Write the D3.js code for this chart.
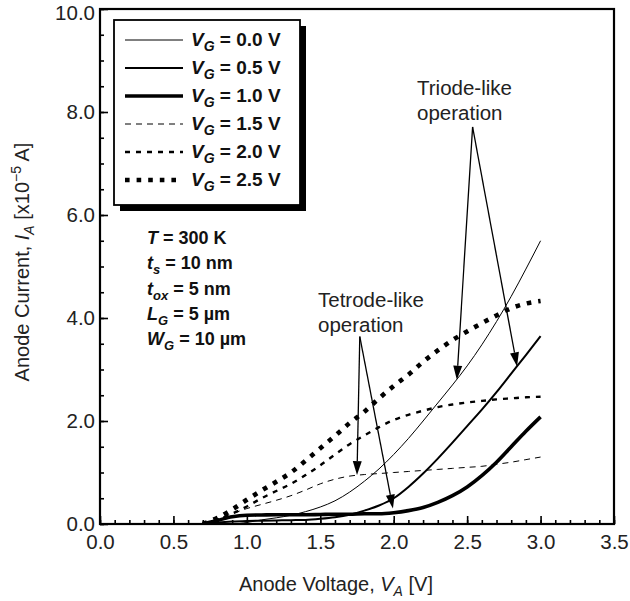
<!DOCTYPE html>
<html>
<head>
<meta charset="utf-8">
<script src="https://cdn.jsdelivr.net/npm/d3@7"></script>
<style>
  html, body { margin: 0; padding: 0; background: #fff; }
  svg { display: block; font-family: "Liberation Sans", Arial, Helvetica, sans-serif; }
</style>
</head>
<body>
<svg id="chart" width="630" height="601"></svg>
<script>
// Anode voltage sample points [V]
const vaCommon = [0.7, 0.8, 0.9, 1.0, 1.1, 1.2, 1.3, 1.4, 1.5, 1.6, 1.7, 1.8, 1.9, 2.0,
                  2.1, 2.2, 2.3, 2.4, 2.5, 2.6, 2.7, 2.8, 2.9, 3.0];

// Anode current [x1e-5 A] for each gate voltage
const iaVg00 = [0, 0, 0, 0.03, 0.08, 0.12, 0.17, 0.24, 0.33, 0.45, 0.62, 0.83, 1.07, 1.35,
                1.66, 2.0, 2.35, 2.7, 3.07, 3.48, 3.93, 4.42, 4.95, 5.5];
const iaVg05 = [0, 0.03, 0.05, 0.06, 0.065, 0.07, 0.075, 0.08, 0.1, 0.13, 0.18, 0.26, 0.36, 0.5,
                0.72, 0.98, 1.27, 1.58, 1.9, 2.22, 2.56, 2.92, 3.28, 3.65];
const iaVg10 = [0, 0.07, 0.14, 0.17, 0.175, 0.18, 0.18, 0.18, 0.185, 0.19, 0.19, 0.2, 0.2, 0.22,
                0.26, 0.32, 0.42, 0.55, 0.72, 0.94, 1.2, 1.5, 1.8, 2.08];
const iaVg15 = [0, 0.1, 0.2, 0.3, 0.38, 0.46, 0.55, 0.66, 0.78, 0.87, 0.93, 0.96, 0.98, 1.0,
                1.02, 1.04, 1.06, 1.08, 1.1, 1.12, 1.16, 1.2, 1.25, 1.3];
const iaVg20 = [0, 0.08, 0.2, 0.34, 0.5, 0.64, 0.78, 0.95, 1.14, 1.35, 1.55, 1.72, 1.88, 2.02,
                2.12, 2.2, 2.27, 2.32, 2.36, 2.39, 2.42, 2.44, 2.46, 2.47];
const iaVg25 = [0, 0.12, 0.28, 0.47, 0.65, 0.82, 1.0, 1.23, 1.47, 1.71, 1.96, 2.18, 2.44, 2.68,
                2.9, 3.15, 3.37, 3.57, 3.74, 3.9, 4.05, 4.19, 4.28, 4.33];

const seriesLabels = ["0.0", "0.5", "1.0", "1.5", "2.0", "2.5"];
const seriesValues = [iaVg00, iaVg05, iaVg10, iaVg15, iaVg20, iaVg25];

// Axis ticks
const xMajorTicks = [0, 0.5, 1.0, 1.5, 2.0, 2.5, 3.0, 3.5];
const yMajorTicks = [0, 2, 4, 6, 8, 10];

// Device parameters
const paramRows = [
  { sym: "T", sub: "", rest: " = 300 K" },
  { sym: "t", sub: "s", rest: " = 10 nm" },
  { sym: "t", sub: "ox", rest: " = 5 nm" },
  { sym: "L", sub: "G", rest: " = 5 \u00b5m" },
  { sym: "W", sub: "G", rest: " = 10 \u00b5m" }
];

// Annotation anchors, in data units [V, x1e-5 A]
const triodeApex = [2.537, 7.71];
const triodeTips = [[2.43, 2.8], [2.84, 3.06]];
const tetrodeApex = [1.769, 3.64];
const tetrodeTips = [[1.75, 0.95], [1.995, 0.3]];

// Line styles per series
const styles = [
  { w: 1.0, dash: null },
  { w: 2.0, dash: null },
  { w: 3.6, dash: null },
  { w: 1.0, dash: "6,5" },
  { w: 2.4, dash: "5,6" },
  { w: 4.6, dash: "4.6,7" }
];

const svg = d3.select("#chart");
const x = d3.scaleLinear().domain([0, 3.5]).range([100, 614]);
const y = d3.scaleLinear().domain([0, 10]).range([524, 9]);

// Clip for curves
svg.append("defs").append("clipPath").attr("id", "plotClip")
  .append("rect").attr("x", 100).attr("y", 9).attr("width", 514).attr("height", 515);

// Curves
const line = d3.line()
  .x(d => x(d[0])).y(d => y(d[1]))
  .curve(d3.curveMonotoneX);

const curves = svg.append("g").attr("clip-path", "url(#plotClip)");
seriesValues.forEach((vals, i) => {
  const pts = vaCommon.map((v, k) => [v, vals[k]]);
  curves.append("path")
    .attr("d", line(pts))
    .attr("fill", "none")
    .attr("stroke", "#000")
    .attr("stroke-width", styles[i].w)
    .attr("stroke-dasharray", styles[i].dash)
    .attr("stroke-linejoin", "round");
});

// Axes with inward ticks
const xMinor = d3.range(0, 3.5001, 0.1).map(v => +v.toFixed(1));
const yMinor = d3.range(0, 10.001, 0.5);

const xAxis = svg.append("g").attr("transform", `translate(0,${y(0)})`)
  .call(d3.axisBottom(x).tickValues(xMajorTicks).tickSizeInner(-8).tickSizeOuter(0)
    .tickPadding(17).tickFormat(d3.format(".1f")));
const xAxisMinor = svg.append("g").attr("transform", `translate(0,${y(0)})`)
  .call(d3.axisBottom(x).tickValues(xMinor).tickSizeInner(-4).tickSizeOuter(0).tickFormat(""));
const yAxis = svg.append("g").attr("transform", `translate(${x(0)},0)`)
  .call(d3.axisLeft(y).tickValues(yMajorTicks).tickSizeInner(-8).tickSizeOuter(0)
    .tickPadding(5).tickFormat(d3.format(".1f")));
const yAxisMinor = svg.append("g").attr("transform", `translate(${x(0)},0)`)
  .call(d3.axisLeft(y).tickValues(yMinor).tickSizeInner(-4).tickSizeOuter(0).tickFormat(""));

[xAxis, xAxisMinor, yAxis, yAxisMinor].forEach(g => {
  g.select(".domain").remove();
  g.selectAll(".tick line").attr("stroke", "#000").attr("stroke-width", 1.6);
  g.selectAll(".tick text").attr("fill", "#222").attr("font-size", 20.5)
    .attr("font-family", "'Liberation Sans', Arial, sans-serif");
});
xAxis.selectAll(".tick text").attr("dy", "0.71em").attr("y", 10);
// top label sits slightly lower so it stays inside the page
yAxis.selectAll(".tick text").filter(d => d === 10).attr("y", 4);

// Frame
svg.append("rect")
  .attr("x", x(0)).attr("y", y(10))
  .attr("width", x(3.5) - x(0)).attr("height", y(0) - y(10))
  .attr("fill", "none").attr("stroke", "#000").attr("stroke-width", 2.2);

// Axis titles
const xt = svg.append("text").attr("x", 336).attr("y", 591)
  .attr("text-anchor", "middle").attr("font-size", 20).attr("fill", "#222");
xt.append("tspan").text("Anode Voltage, ");
xt.append("tspan").attr("font-style", "italic").text("V");
xt.append("tspan").attr("font-style", "italic").attr("font-size", 14).attr("dy", 5).text("A");
xt.append("tspan").attr("dy", -5).text(" [V]");

const yt = svg.append("text").attr("transform", "translate(29,262) rotate(-90)")
  .attr("text-anchor", "middle").attr("font-size", 20).attr("fill", "#222");
yt.append("tspan").text("Anode Current, ");
yt.append("tspan").attr("font-style", "italic").text("I");
yt.append("tspan").attr("font-style", "italic").attr("font-size", 14).attr("dy", 5).text("A");
yt.append("tspan").attr("dy", -5).text(" [x10");
yt.append("tspan").attr("font-size", 14).attr("dy", -8).text("\u22125");
yt.append("tspan").attr("dy", 8).text(" A]");

// Legend box with drop shadow
const lg = svg.append("g");
lg.append("rect").attr("x", 120).attr("y", 26).attr("width", 186).attr("height", 185).attr("fill", "#000");
lg.append("rect").attr("x", 114).attr("y", 20).attr("width", 186).attr("height", 185)
  .attr("fill", "#fff").attr("stroke", "#000").attr("stroke-width", 1.8);

seriesLabels.forEach((lab, i) => {
  const ly = 40 + i * 28;
  lg.append("line").attr("x1", 125).attr("x2", 183).attr("y1", ly).attr("y2", ly)
    .attr("stroke", "#000").attr("stroke-width", styles[i].w)
    .attr("stroke-dasharray", styles[i].dash);
  const t = lg.append("text").attr("x", 191).attr("y", ly + 6)
    .attr("font-size", 19).attr("font-weight", "bold").attr("fill", "#111");
  t.append("tspan").attr("font-style", "italic").text("V");
  t.append("tspan").attr("font-style", "italic").attr("font-size", 14).attr("dy", 5).text("G");
  t.append("tspan").attr("dy", -5).text(` = ${lab} V`);
});

// Device parameter block
paramRows.forEach((r, i) => {
  const t = svg.append("text").attr("x", 147).attr("y", 244 + i * 25.3)
    .attr("font-size", 18).attr("font-weight", "bold").attr("fill", "#111");
  t.append("tspan").attr("font-style", "italic").text(r.sym);
  if (r.sub) {
    t.append("tspan").attr("font-style", "italic").attr("font-size", 13).attr("dy", 5).text(r.sub);
    t.append("tspan").attr("dy", -5).text(r.rest);
  } else {
    t.append("tspan").text(r.rest);
  }
});

// Annotations with arrows
function arrow(from, to) {
  const [x0, y0] = [x(from[0]), y(from[1])];
  const [x1, y1] = [x(to[0]), y(to[1])];
  const ang = Math.atan2(y1 - y0, x1 - x0);
  const len = 14, half = 4.5;
  const bx = x1 - len * Math.cos(ang), by = y1 - len * Math.sin(ang);
  svg.append("line").attr("x1", x0).attr("y1", y0).attr("x2", bx).attr("y2", by)
    .attr("stroke", "#000").attr("stroke-width", 1.3);
  const px = -Math.sin(ang) * half, py = Math.cos(ang) * half;
  svg.append("path")
    .attr("d", `M${x1},${y1}L${bx + px},${by + py}L${bx - px},${by - py}Z`)
    .attr("fill", "#000");
}
triodeTips.forEach(t => arrow(triodeApex, t));
tetrodeTips.forEach(t => arrow(tetrodeApex, t));

function note(lines, px, py) {
  lines.forEach((s, i) => {
    svg.append("text").attr("x", px).attr("y", py + i * 25)
      .attr("font-size", 20.5).attr("fill", "#222").text(s);
  });
}
note(["Triode-like", "operation"], 417, 95);
note(["Tetrode-like", "operation"], 318, 307);
</script>
</body>
</html>
